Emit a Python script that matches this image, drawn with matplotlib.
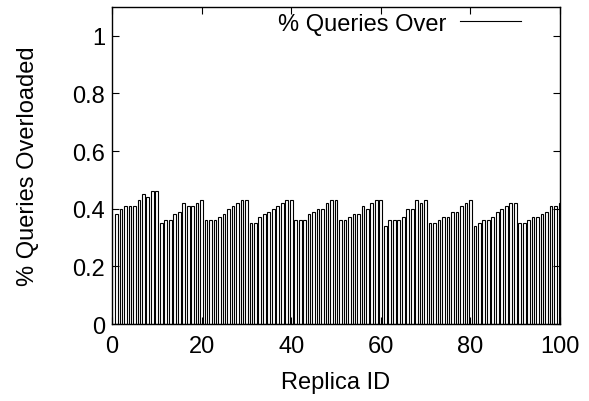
import matplotlib
matplotlib.use("Agg")
import matplotlib.pyplot as plt
from matplotlib.lines import Line2D

plt.rcParams['font.family'] = ['Liberation Sans', 'DejaVu Sans']

replica_ids = list(range(1, 101))
overloaded = [
    0.38, 0.40, 0.41, 0.41, 0.41, 0.43, 0.45, 0.44, 0.46, 0.46,
    0.35, 0.36, 0.36, 0.38, 0.39, 0.42, 0.41, 0.41, 0.42, 0.43,
    0.36, 0.36, 0.36, 0.37, 0.38, 0.40, 0.41, 0.42, 0.43, 0.43,
    0.35, 0.35, 0.37, 0.38, 0.39, 0.40, 0.41, 0.42, 0.43, 0.43,
    0.36, 0.36, 0.36, 0.38, 0.39, 0.40, 0.40, 0.42, 0.43, 0.43,
    0.36, 0.36, 0.37, 0.38, 0.38, 0.41, 0.40, 0.42, 0.43, 0.43,
    0.34, 0.36, 0.36, 0.36, 0.37, 0.40, 0.40, 0.43, 0.42, 0.43,
    0.35, 0.35, 0.36, 0.37, 0.37, 0.39, 0.39, 0.41, 0.42, 0.43,
    0.34, 0.35, 0.36, 0.36, 0.37, 0.39, 0.40, 0.41, 0.42, 0.42,
    0.35, 0.35, 0.36, 0.37, 0.37, 0.38, 0.39, 0.41, 0.41, 0.42,
]
x_ticks = [0, 20, 40, 60, 80, 100]
y_ticks = [0, 0.2, 0.4, 0.6, 0.8, 1]
y_tick_labels = ['0', '0.2', '0.4', '0.6', '0.8', '1']

fig = plt.figure(figsize=(5.89, 4.02), dpi=100)
ax = fig.add_axes([112/589, 1 - 325/402, 448/589, 317/402])

ax.bar(replica_ids, overloaded, width=0.6, facecolor='white',
       edgecolor='black', linewidth=0.8, align='center')

ax.set_xlim(0, 100)
ax.set_ylim(0, 1.1)
ax.set_xticks(x_ticks)
ax.set_xticklabels([str(t) for t in x_ticks])
ax.set_yticks(y_ticks)
ax.set_yticklabels(y_tick_labels)
ax.tick_params(direction='in', top=True, right=True, length=5, width=0.8,
               labelsize=17, pad=5)
ax.tick_params(axis='x', pad=8)
for s in ax.spines.values():
    s.set_linewidth(1.0)

ax.set_xlabel('Replica ID', fontsize=17, labelpad=10)
ax.set_ylabel('% Queries Overloaded', fontsize=17, labelpad=24)

handle = Line2D([], [], color='black', linewidth=0.8)
ax.legend([handle], ['% Queries Over'], loc='upper right', frameon=False,
          fontsize=17, markerfirst=False, handlelength=2.6, handletextpad=0.6,
          borderaxespad=0.0, bbox_to_anchor=(0.935, 1.012))

fig.savefig('out.png', dpi=100)
